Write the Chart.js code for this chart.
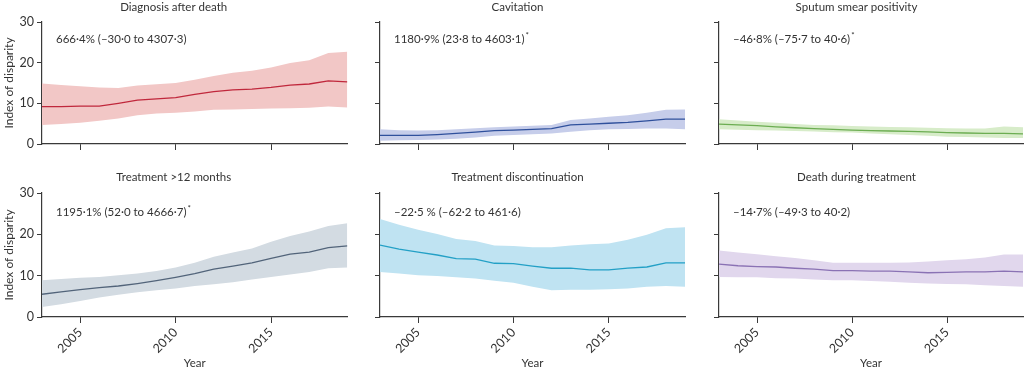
<!DOCTYPE html>
<html>
<head>
<meta charset="utf-8">
<script src="https://cdn.jsdelivr.net/npm/chart.js@4.4.1/dist/chart.umd.min.js"></script>
<style>
  html, body { margin: 0; padding: 0; background: #fff; }
  #wrap { position: relative; width: 1024px; height: 367px; overflow: hidden; }
  canvas { position: absolute; }
</style>
</head>
<body>
<div id="wrap">
  <canvas id="c1" width="350" height="160" style="left:0;top:0"></canvas>
  <canvas id="c2" width="350" height="160" style="left:350px;top:0"></canvas>
  <canvas id="c3" width="334" height="160" style="left:690px;top:0"></canvas>
  <canvas id="c4" width="350" height="207" style="left:0;top:160px"></canvas>
  <canvas id="c5" width="350" height="207" style="left:350px;top:160px"></canvas>
  <canvas id="c6" width="334" height="207" style="left:690px;top:160px"></canvas>
</div>
<script>
const jaren = [2003, 2004, 2005, 2006, 2007, 2008, 2009, 2010, 2011, 2012, 2013, 2014, 2015, 2016, 2017, 2018, 2019];
const jaarTicks = [2005, 2010, 2015];
const yTicks = [0, 10, 20, 30];

// diagnose na overlijden
const diagGem = [9.2, 9.2, 9.3, 9.3, 10.0, 10.8, 11.1, 11.4, 12.2, 12.9, 13.3, 13.5, 13.9, 14.5, 14.75, 15.5, 15.3];
const diagBoven = [14.9, 14.5, 14.2, 13.9, 13.8, 14.4, 14.7, 15.0, 15.8, 16.7, 17.5, 18.0, 18.8, 19.9, 20.6, 22.4, 22.7];
const diagOnder = [4.7, 4.9, 5.2, 5.7, 6.3, 7.1, 7.5, 7.7, 8.0, 8.4, 8.5, 8.6, 8.7, 8.8, 8.9, 9.2, 9.0];

// cavitatie
const cavGem = [2.1, 2.1, 2.1, 2.3, 2.6, 2.9, 3.3, 3.4, 3.6, 3.8, 4.7, 4.9, 5.1, 5.3, 5.7, 6.1, 6.1];
const cavBoven = [3.6, 3.4, 3.3, 3.4, 3.6, 3.9, 4.1, 4.3, 4.5, 4.7, 5.9, 6.3, 6.7, 7.1, 7.7, 8.4, 8.5];
const cavOnder = [0.8, 0.9, 1.0, 1.1, 1.3, 1.6, 2.0, 2.2, 2.4, 2.6, 3.0, 3.4, 3.6, 3.7, 3.8, 3.8, 3.6];

// sputum
const sputGem = [4.9, 4.7, 4.5, 4.2, 4.0, 3.8, 3.6, 3.4, 3.3, 3.2, 3.1, 3.0, 2.8, 2.7, 2.6, 2.6, 2.5];
const sputBoven = [6.1, 5.8, 5.5, 5.2, 4.9, 4.7, 4.6, 4.4, 4.3, 4.2, 4.1, 4.0, 3.9, 3.8, 3.8, 4.3, 4.1];
const sputOnder = [3.6, 3.5, 3.4, 3.3, 3.2, 3.1, 2.9, 2.8, 2.6, 2.4, 2.2, 2.0, 1.8, 1.7, 1.6, 1.5, 1.5];

// behandeling > 12 maanden
const langGem = [5.5, 6.1, 6.6, 7.1, 7.5, 8.1, 8.8, 9.6, 10.5, 11.6, 12.3, 13.1, 14.2, 15.2, 15.7, 16.8, 17.2];
const langBoven = [8.9, 9.2, 9.5, 9.7, 10.1, 10.5, 11.1, 12.0, 13.1, 14.6, 15.6, 16.6, 18.2, 19.6, 20.7, 22.0, 22.7];
const langOnder = [2.4, 3.1, 3.9, 4.7, 5.4, 6.0, 6.5, 6.9, 7.5, 7.9, 8.4, 9.1, 9.7, 10.3, 10.9, 11.8, 12.0];

// stopzetting behandeling
const stopGem = [17.4, 16.4, 15.7, 15.0, 14.1, 14.0, 13.0, 12.9, 12.3, 11.8, 11.8, 11.4, 11.4, 11.8, 12.1, 13.1, 13.1];
const stopBoven = [23.7, 22.3, 21.1, 20.1, 18.9, 18.4, 17.3, 17.2, 16.9, 16.9, 17.3, 17.6, 17.8, 18.7, 19.9, 21.5, 21.7];
const stopOnder = [10.9, 10.5, 10.1, 9.9, 9.6, 9.3, 8.8, 8.3, 7.3, 6.5, 6.6, 6.6, 6.7, 6.9, 7.3, 7.5, 7.3];

// overlijden tijdens behandeling
const doodGem = [12.8, 12.4, 12.2, 12.1, 11.8, 11.6, 11.2, 11.2, 11.1, 11.1, 10.9, 10.7, 10.8, 10.9, 10.9, 11.1, 10.9];
const doodBoven = [16.1, 15.6, 15.2, 14.7, 14.3, 13.7, 13.1, 13.1, 13.1, 13.1, 13.2, 13.4, 13.7, 14.0, 14.4, 15.1, 15.1];
const doodOnder = [9.7, 9.6, 9.6, 9.4, 9.3, 9.1, 8.9, 8.9, 8.7, 8.5, 8.3, 8.1, 8.0, 7.9, 7.7, 7.5, 7.3];

const FONT = 'Lato';
const TEKST = '#333';
const AS = '#3a3a3a';

const panelen = [
    { id: 'c1', titel: 'Diagnosis after death', noot: '666·4% (–30·0 to 4307·3)', ster: false,
      gem: diagGem, boven: diagBoven, onder: diagOnder, lijn: '#c0283c', band: '#f2c7c6',
      rij: 1, kol: 1 },
    { id: 'c2', titel: 'Cavitation', noot: '1180·9% (23·8 to 4603·1)', ster: true,
      gem: cavGem, boven: cavBoven, onder: cavOnder, lijn: '#2f509c', band: '#c6cdea',
      rij: 1, kol: 2 },
    { id: 'c3', titel: 'Sputum smear positivity', noot: '–46·8% (–75·7 to 40·6)', ster: true,
      gem: sputGem, boven: sputBoven, onder: sputOnder, lijn: '#6cad52', band: '#d7ecc9',
      rij: 1, kol: 3 },
    { id: 'c4', titel: 'Treatment >12 months', noot: '1195·1% (52·0 to 4666·7)', ster: true,
      gem: langGem, boven: langBoven, onder: langOnder, lijn: '#52647a', band: '#d3dbe2',
      rij: 2, kol: 1 },
    { id: 'c5', titel: 'Treatment discontinuation', noot: '–22·5 % (–62·2 to 461·6)', ster: false,
      gem: stopGem, boven: stopBoven, onder: stopOnder, lijn: '#23a0c6', band: '#bfe3f2',
      rij: 2, kol: 2 },
    { id: 'c6', titel: 'Death during treatment', noot: '–14·7% (–49·3 to 40·2)', ster: false,
      gem: doodGem, boven: doodBoven, onder: doodOnder, lijn: '#8a72b4', band: '#e1d7ed',
      rij: 2, kol: 3 }
];

// breedte van de y-as en rechtermarge per kolom
const kolomMaten = {
    1: { yBreedte: 42, rechts: 2.6 },
    2: { yBreedte: 30, rechts: 15 },
    3: { yBreedte: 29, rechts: 1 }
};

const notitiePlugin = {
    id: 'notitie',
    afterDraw(chart, args, opts) {
        const ctx = chart.ctx;
        const ca = chart.chartArea;
        ctx.save();
        ctx.font = '11.5px ' + FONT;
        ctx.fillStyle = TEKST;
        ctx.textBaseline = 'middle';
        const x = ca.left + 14;
        const y = ca.top + opts.dy;
        ctx.fillText(opts.tekst, x, y);
        if (opts.ster) {
            const w = ctx.measureText(opts.tekst).width;
            ctx.font = '8px ' + FONT;
            ctx.fillText('*', x + w + 1, y - 4);
        }
        ctx.restore();
    }
};

function punten(reeks) {
    return jaren.map((j, i) => ({ x: j, y: reeks[i] }));
}

panelen.forEach(p => {
    const maat = kolomMaten[p.kol];
    const onder = p.rij === 2;
    const eersteKol = p.kol === 1;

    new Chart(document.getElementById(p.id), {
        type: 'line',
        data: {
            datasets: [
                // gemiddelde eerst, zodat de lijn boven de band komt
                { data: punten(p.gem), borderColor: p.lijn, borderWidth: 1.3, pointRadius: 0, fill: false, tension: 0 },
                { data: punten(p.boven), borderWidth: 0, pointRadius: 0, backgroundColor: p.band, fill: '+1', tension: 0 },
                { data: punten(p.onder), borderWidth: 0, pointRadius: 0, fill: false, tension: 0 }
            ]
        },
        options: {
            responsive: false,
            animation: false,
            layout: { padding: { left: 0, right: maat.rechts, top: 0, bottom: 0 } },
            plugins: {
                legend: { display: false },
                tooltip: { enabled: false },
                title: {
                    display: true,
                    text: p.titel,
                    color: TEKST,
                    font: { family: FONT, size: 11.5, weight: 'normal' },
                    padding: onder ? { top: 10, bottom: 9.2 } : { top: 0, bottom: 8.2 }
                },
                notitie: { tekst: p.noot, ster: p.ster, dy: onder ? 19 : 17 }
            },
            scales: {
                x: {
                    type: 'linear',
                    min: 2003,
                    max: 2019,
                    afterBuildTicks: as => { as.ticks = jaarTicks.map(v => ({ value: v })); },
                    afterFit: as => { as.height = onder ? 50 : 16; },
                    border: { color: AS, width: 1.2 },
                    grid: { drawOnChartArea: false, drawTicks: true, tickLength: 6, color: AS },
                    ticks: {
                        color: TEKST,
                        font: { family: FONT, size: 12.5 },
                        maxRotation: 45,
                        minRotation: 45,
                        padding: 2,
                        callback: v => onder ? String(v) : ''
                    },
                    title: {
                        display: onder,
                        text: 'Year',
                        color: TEKST,
                        font: { family: FONT, size: 11.5 },
                        padding: { top: 0, bottom: -3 }
                    }
                },
                y: {
                    min: 0,
                    max: 30,
                    afterBuildTicks: as => { as.ticks = yTicks.map(v => ({ value: v })); },
                    afterFit: as => { as.width = maat.yBreedte; },
                    border: { color: AS, width: 1.2 },
                    grid: { drawOnChartArea: false, drawTicks: true, tickLength: 5, color: AS },
                    ticks: {
                        color: TEKST,
                        font: { family: FONT, size: 12.5 },
                        padding: 3,
                        callback: v => eersteKol ? String(v) : ''
                    },
                    title: {
                        display: eersteKol,
                        text: 'Index of disparity',
                        color: TEKST,
                        font: { family: FONT, size: 12 },
                        padding: { top: 1.5, bottom: 0 }
                    }
                }
            }
        },
        plugins: [notitiePlugin]
    });
});
</script>
</body>
</html>
